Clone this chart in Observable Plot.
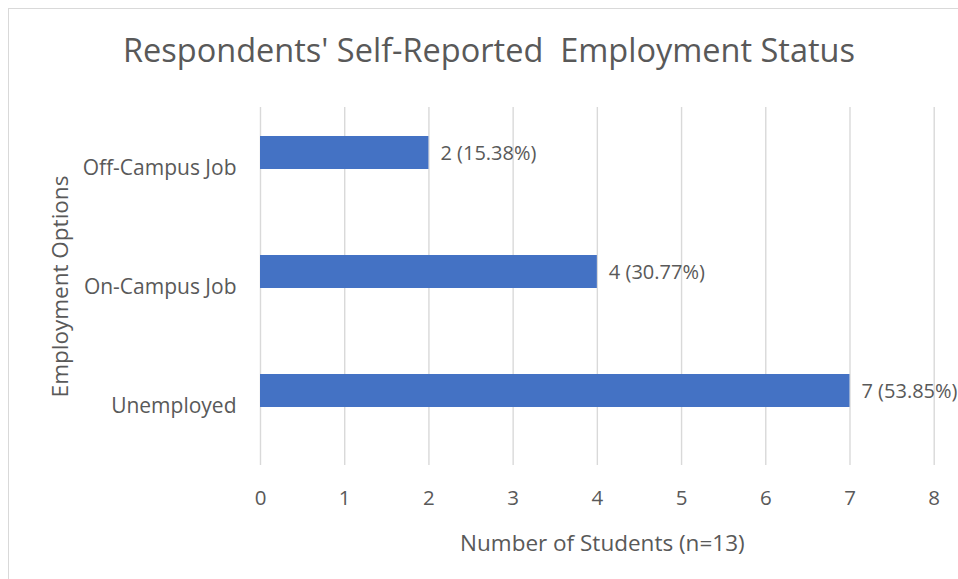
<!DOCTYPE html>
<html>
<head>
<meta charset="utf-8">
<script src="https://cdn.jsdelivr.net/npm/d3@7"></script>
<script src="https://cdn.jsdelivr.net/npm/@observablehq/plot@0.6"></script>
<style>
  html, body { margin: 0; padding: 0; background: #fff; overflow: hidden; }
  #wrap { position: relative; width: 958px; height: 579px; overflow: hidden; background: #fff; }
  #frame { position: absolute; left: 8px; top: 8px; width: 1200px; height: 1200px; border: 1.3px solid #D9D9D9; box-sizing: border-box; }
  #title { position: absolute; top: 34px; left: 0; width: 978px; text-align: center; font-family: "Open Sans", sans-serif; font-size: 32.5px; line-height: 1; color: #595959; white-space: pre; }
  #chart { position: absolute; left: 0; top: 0; }
</style>
</head>
<body>
<div id="wrap">
  <div id="frame"></div>
  <div id="chart"></div>
  <div id="title">Respondents' Self-Reported  Employment Status</div>
</div>
<script>
const categories = ["Off-Campus Job", "On-Campus Job", "Unemployed"];
const counts = [2, 4, 7];
const valueLabels = ["2 (15.38%)", "4 (30.77%)", "7 (53.85%)"];
const xTicks = [0, 1, 2, 3, 4, 5, 6, 7, 8];
const xTitle = "Number of Students (n=13)";
const yTitle = "Employment Options";

const data = categories.map((c, i) => ({category: c, count: counts[i], label: valueLabels[i]}));

const textColor = "#595959";
const font = "Open Sans, sans-serif";

const chart = Plot.plot({
  width: 958,
  height: 579,
  marginLeft: 260,
  marginRight: 24.3,
  marginTop: 107,
  marginBottom: 114,
  style: {fontFamily: font, color: textColor, background: "transparent", overflow: "visible"},
  x: {domain: [0, 8], range: [260, 933.7]},
  y: {domain: categories, range: [107, 465], padding: 0},
  marks: [
    Plot.ruleX(xTicks, {x: d => d, stroke: "#D9D9D9", strokeWidth: 1.4}),
    Plot.barX(data, {x: "count", y: "category", fill: "#4472C4", insetTop: 28, insetBottom: 58}),
    Plot.text(data, {x: "count", y: "category", text: "label", textAnchor: "start", dx: 11.5, dy: -14.5, fontSize: 20, fill: textColor}),
    Plot.axisX({ticks: xTicks, tickSize: 0, tickPadding: 25, fontSize: 20.5, label: null, tickFormat: d => String(d), fill: textColor}),
    Plot.axisY({tickSize: 0, tickPadding: 24, fontSize: 21, label: null, fill: textColor}),
    Plot.text([xTitle], {frameAnchor: "bottom", text: d => d, textAnchor: "middle", lineAnchor: "middle", dy: 78, dx: 5, fontSize: 22.5, fill: textColor}),
    Plot.text([yTitle], {frameAnchor: "left", text: d => d, textAnchor: "middle", lineAnchor: "middle", rotate: -90, dx: -200, fontSize: 22.5, fill: textColor})
  ]
});
document.getElementById("chart").appendChild(chart);
</script>
</body>
</html>
